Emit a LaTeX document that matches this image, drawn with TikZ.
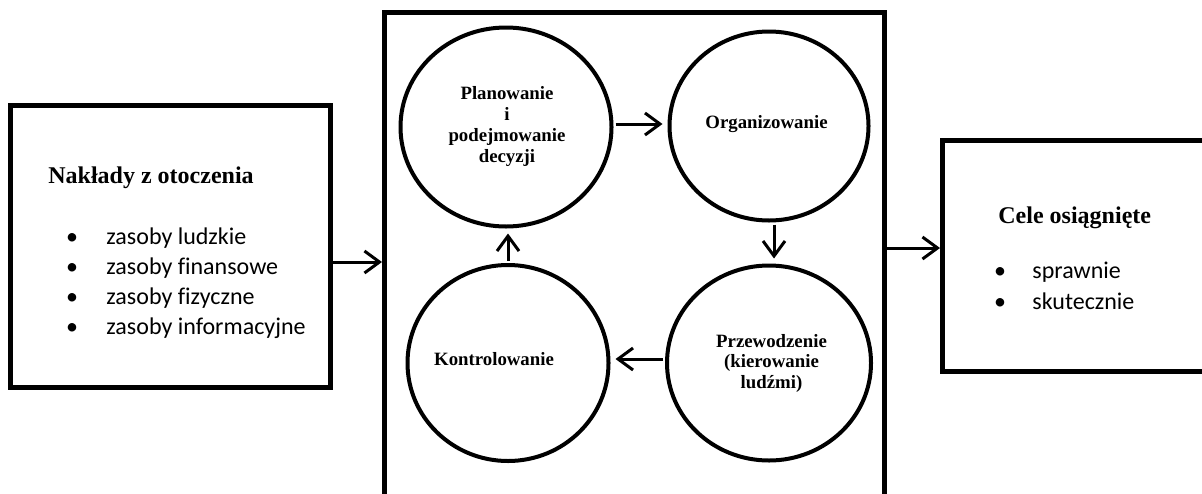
\documentclass[tikz,border=0pt]{standalone}
\usepackage{fontspec}
\setmainfont{Liberation Serif}
\newfontfamily\listfont[Ligatures=CommonOff]{Carlito}
\usetikzlibrary{arrows.meta,shapes.geometric}
\begin{document}
\begin{tikzpicture}[x=0.5pt,y=-0.5pt,
  panel/.style={draw,line width=2.5pt,inner sep=0pt,rectangle},
  phase/.style={draw,line width=2pt,inner sep=0pt,ellipse},
  ctext/.style={font=\fontsize{9.4}{10.5}\selectfont\bfseries,align=center,inner sep=0pt},
  head/.style={font=\fontsize{12}{14}\selectfont\bfseries,inner sep=0pt,anchor=base west},
  item/.style={font=\listfont\fontsize{12}{15}\selectfont,inner sep=0pt,anchor=base west},
  bul/.style={font=\listfont\fontsize{12}{15}\selectfont,inner sep=0pt,anchor=base},
  arr/.style={line width=1.5pt,-{Straight Barb[length=7.5pt,width=11pt]}},
  flow/.style={arr,shorten <=1pt,shorten >=2.5pt}]
\useasboundingbox (0,0) rectangle (1202,493);
\clip (0,0) rectangle (1202,493);

% inputs, management process, outcomes
\node[panel,minimum width=160pt,minimum height=141pt] (inputs) at (170.5,246.5) {};
\node[panel,minimum width=250pt,minimum height=248.75pt] (process) at (634.5,261.25) {};
\node[panel,minimum width=138.75pt,minimum height=115.5pt] (outputs) at (1081.25,256) {};

% the four management functions
\node[phase,minimum width=105.5pt,minimum height=99.5pt] (plan) at (506,127) {};
\node[phase,minimum width=99.5pt,minimum height=94.5pt] (org) at (769,126) {};
\node[phase,minimum width=100.5pt,minimum height=98pt] (kon) at (508,363) {};
\node[phase,minimum width=102pt,minimum height=97.5pt] (prz) at (769,363) {};

\node[ctext] (plantxt) at (507,127) {Planowanie\\i\\podejmowanie\\decyzji};
\node[ctext] (orgtxt) at (766.5,123.6) {Organizowanie};
\node[ctext,font=\fontsize{9.4}{10.25}\selectfont\bfseries] (prztxt) at (771.5,363) {Przewodzenie\\(kierowanie\\ludźmi)};
\node[ctext] (kontxt) at (494,358.7) {Kontrolowanie};

% cycle
\draw[flow] (plan.east |- 0,124) -- (org.west |- 0,124);
\draw[flow] (org.south -| 774,0) -- (prz.north -| 774,0);
\draw[flow] (prz.west |- 0,359) -- (kon.east |- 0,359);
\draw[flow] (kon.north -| 508,0) -- (plan.south -| 508,0);

% inputs text
\node[head] (intitle) at (48,183) {Nakłady z otoczenia};
\foreach \t [count=\i] in {zasoby ludzkie,zasoby finansowe,zasoby fizyczne,zasoby informacyjne}{
  \node[bul] (inb\i) at (72,{244+30.3*(\i-1)}) {•};
  \node[item] (in\i) at (106,{244+30.3*(\i-1)}) {\t};
}

% outcomes text
\node[head] (outtitle) at (998,223) {Cele osiągnięte};
\foreach \t [count=\i] in {sprawnie,skutecznie}{
  \node[bul] (outb\i) at (1000,{278+31.5*(\i-1)}) {•};
  \node[item] (out\i) at (1032,{278+31.5*(\i-1)}) {\t};
}

% flow between the panels
\draw[arr] (inputs.east |- 0,262) -- (process.west |- 0,262);
\draw[arr] (process.east |- 0,248) -- (outputs.west |- 0,248);
\end{tikzpicture}
\end{document}
